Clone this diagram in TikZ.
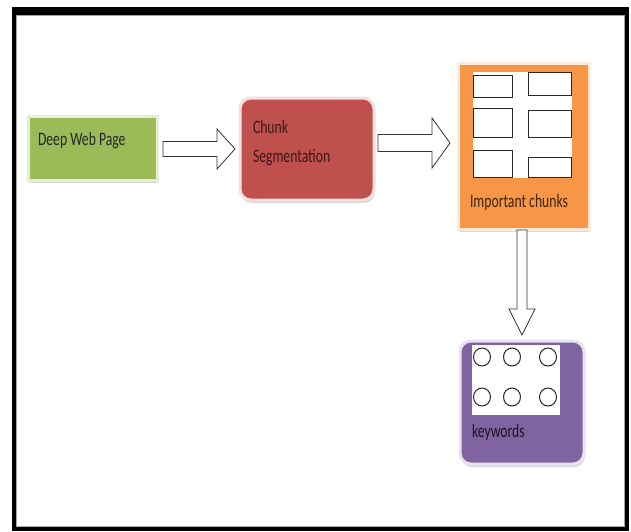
\documentclass[tikz,border=0pt]{standalone}
\usepackage{fontspec}
\setmainfont{Carlito}
\usetikzlibrary{calc,shadows,shapes.geometric}
\definecolor{grn}{HTML}{9BBB59}
\definecolor{rd}{HTML}{C0504D}
\definecolor{org}{HTML}{F79646}
\definecolor{prp}{HTML}{8064A2}
\newcommand\sqz[1]{\scalebox{0.72}[1]{#1}}
\newcommand\harrow[5]{%
  \draw[blockarrow] let \p1=(#1), \p2=(#2) in
    (\x1,\y1-#3) -- (\x2-#5,\y1-#3) -- (\x2-#5,\y1-#4) -- (\x2,\y1)
    -- (\x2-#5,\y1+#4) -- (\x2-#5,\y1+#3) -- (\x1,\y1+#3) -- cycle;}
\newcommand\varrow[5]{%
  \draw[blockarrow] let \p1=(#1), \p2=(#2) in
    (\x1-#3,\y1) -- (\x1-#3,\y2+#5) -- (\x1-#4,\y2+#5) -- (\x1,\y2)
    -- (\x1+#4,\y2+#5) -- (\x1+#3,\y2+#5) -- (\x1+#3,\y1) -- cycle;}
\begin{document}
\begin{tikzpicture}[x=1pt,y=-1pt,
  every node/.style={inner sep=0pt,outer sep=0pt},
  box/.style={anchor=north west, line width=3pt,
    drop shadow={shadow xshift=1pt,shadow yshift=-3pt,fill=black!25,opacity=0.6}},
  txt/.style={font=\fontsize{19}{22}\selectfont, anchor=west},
  blockarrow/.style={draw=black!80, fill=white, line width=0.8pt, line join=miter},
  wrect/.style={draw=black!85, line width=1pt, fill=white, anchor=north west},
  wcirc/.style={draw=black!85, line width=1pt, fill=white, ellipse, minimum width=17pt, minimum height=18pt},
]
\useasboundingbox (0,0) rectangle (631,531);
% frame
\fill[black] (12,7) rectangle (629,531);
\fill[white] (16,15) rectangle (625,527);
\draw[black!35, line width=0.6pt] (16.5,15.5) rectangle (624.5,526.5);

% green box
\node[box, fill=grn, draw=grn!25, minimum width=129pt, minimum height=64pt] (g) at (28,116) {};
\node[txt, text=black!85] (gt) at (38,141) {\sqz{Deep Web Page}};

% red box
\node[box, fill=rd, draw=rd!18, rounded corners=11pt, minimum width=134pt, minimum height=102pt] (r) at (240,98) {};
\node[txt, text=rd!30!black] (rt1) at (253,127) {\sqz{Chunk}};
\node[txt, text=rd!30!black] (rt2) at (253,158) {\sqz{Segmentation}};

% orange box
\node[box, fill=org, draw=org!20, minimum width=131pt, minimum height=166pt] (o) at (458,63) {};
\fill[white] (473,72) rectangle (572,178);
\node[wrect, minimum width=39pt, minimum height=22pt] (c1) at (473,75) {};
\node[wrect, minimum width=43pt, minimum height=23pt] (c2) at (528,72) {};
\node[wrect, minimum width=39pt, minimum height=29pt] (c3) at (473,108) {};
\node[wrect, minimum width=43pt, minimum height=27pt] (c4) at (528,110) {};
\node[wrect, minimum width=39pt, minimum height=27pt] (c5) at (473,150) {};
\node[wrect, minimum width=43pt, minimum height=20pt] (c6) at (528,157) {};
\node[txt, text=org!25!black] (ot) at (470,202) {\sqz{Important chunks}};

% purple box
\node[box, fill=prp, draw=prp!18, rounded corners=11pt, minimum width=124pt, minimum height=123pt] (p) at (460,341) {};
\fill[white] (472,345) rectangle (560,415);
\node[wcirc] (k1) at (482,357) {};
\node[wcirc] (k2) at (512,357) {};
\node[wcirc] (k3) at (548,357) {};
\node[wcirc] (k4) at (482,397) {};
\node[wcirc] (k5) at (512,397) {};
\node[wcirc] (k6) at (548,397) {};
\node[txt, text=prp!20!black] (pt) at (472,432) {\sqz{keywords}};

% connectors (block arrows)
\coordinate (a1s) at ($(g.east)+(6,1)$);
\coordinate (a1e) at ($(r.west)+(-5,0)$);
\harrow{a1s}{a1e}{7.5pt}{20pt}{18pt}
\coordinate (a2s) at ($(r.east)+(4,-6)$);
\coordinate (a2e) at ($(o.west)+(-8,-4)$);
\harrow{a2s}{a2e}{8.5pt}{25pt}{18pt}
\coordinate (a3s) at ($(o.south)+(-1.5,1)$);
\coordinate (a3e) at ($(p.north)+(0,-6)$);
\varrow{a3s}{a3e}{5pt}{13pt}{26pt}
\end{tikzpicture}
\end{document}
